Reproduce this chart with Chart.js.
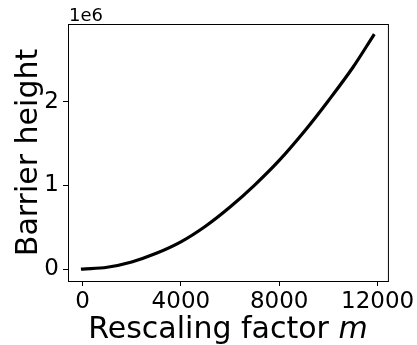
<!DOCTYPE html>
<html>
<head>
<meta charset="utf-8">
<script src="https://cdn.jsdelivr.net/npm/chart.js@4.4.1/dist/chart.umd.min.js"></script>
<style>
  body { margin: 0; background: #fff; }
  canvas { display: block; }
</style>
</head>
<body>
<canvas id="barrierChart" width="417" height="345"></canvas>
<script>
// values
const rescaling = [0, 1000, 2000, 3000, 4000, 5000, 6000, 7000, 8000, 9000, 10000, 11000, 11830];
const barrierHeight = [0, 22000, 85000, 188000, 325000, 512000, 742000, 1005000, 1300000, 1640000, 2015000, 2415000, 2795000];
const xTicks = [0, 4000, 8000, 12000];
const yTicks = [0, 1000000, 2000000];
const xLabel = 'Rescaling factor ';
const xLabelVar = 'm';
const yLabel = 'Barrier height';
const offsetText = '1e6';

Chart.defaults.font.family = 'DejaVu Sans';
Chart.defaults.color = '#000';

// box frame + axis titles drawn by hand (italic m needs mixed fonts)
const frameAndTitles = {
  id: 'frameAndTitles',
  afterDraw(chart) {
    const ctx = chart.ctx;
    const a = chart.chartArea;
    ctx.save();
    ctx.strokeStyle = '#000';
    ctx.lineWidth = 1;
    ctx.strokeRect(a.left + 0.5, a.top + 0.5, a.right - a.left, a.bottom - a.top);

    ctx.fillStyle = '#000';
    ctx.font = '18px "DejaVu Sans"';
    ctx.textAlign = 'left';
    ctx.textBaseline = 'alphabetic';
    ctx.fillText(offsetText, a.left + 1, 20.5);

    const midX = (a.left + a.right) / 2;
    const midY = (a.top + a.bottom) / 2;
    ctx.font = '30px "DejaVu Sans"';
    const w1 = ctx.measureText(xLabel).width;
    ctx.font = 'italic 30px "DejaVu Sans"';
    const w2 = ctx.measureText(xLabelVar).width;
    let x0 = midX - (w1 + w2) / 2;
    ctx.font = '30px "DejaVu Sans"';
    ctx.fillText(xLabel, x0, 338);
    ctx.font = 'italic 30px "DejaVu Sans"';
    ctx.fillText(xLabelVar, x0 + w1, 338);

    ctx.translate(37, midY);
    ctx.rotate(-Math.PI / 2);
    ctx.font = '30px "DejaVu Sans"';
    ctx.textAlign = 'center';
    ctx.fillText(yLabel, 0, 0);
    ctx.restore();
  }
};

new Chart(document.getElementById('barrierChart'), {
  type: 'line',
  data: {
    datasets: [{
      data: rescaling.map((x, i) => ({ x: x, y: barrierHeight[i] })),
      borderColor: '#000',
      borderWidth: 3.2,
      borderCapStyle: 'square',
      pointRadius: 0,
      fill: false,
      cubicInterpolationMode: 'monotone'
    }]
  },
  options: {
    responsive: false,
    animation: false,
    layout: { padding: { top: 24, right: 26, left: 0, bottom: 0 } },
    plugins: { legend: { display: false }, tooltip: { enabled: false } },
    scales: {
      x: {
        type: 'linear',
        min: -591,
        max: 12421,
        afterFit(scale) { scale.height = 64; },
        afterBuildTicks(scale) { scale.ticks = xTicks.map(v => ({ value: v })); },
        border: { display: false },
        grid: { drawOnChartArea: false, tickLength: 5, tickColor: '#000', tickWidth: 1 },
        ticks: { font: { size: 23 }, padding: 2, maxRotation: 0, callback: v => String(v) }
      },
      y: {
        type: 'linear',
        min: -143000,
        max: 2933000,
        afterFit(scale) { scale.width = 68; },
        afterBuildTicks(scale) { scale.ticks = yTicks.map(v => ({ value: v })); },
        border: { display: false },
        grid: { drawOnChartArea: false, tickLength: 5, tickColor: '#000', tickWidth: 1 },
        ticks: { font: { size: 23 }, padding: 4, callback: v => String(v / 1000000) }
      }
    }
  },
  plugins: [frameAndTitles]
});
</script>
</body>
</html>
